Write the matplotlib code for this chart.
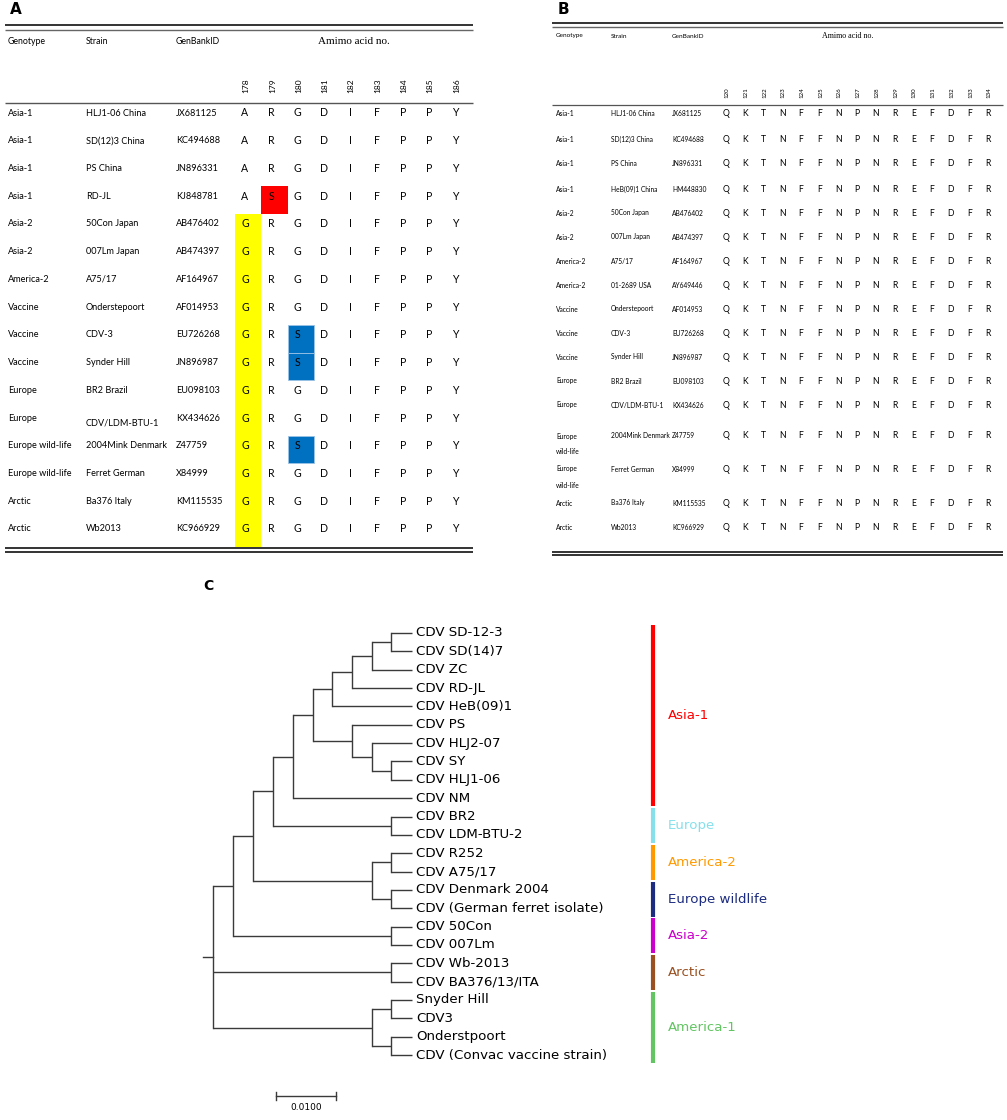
import matplotlib
matplotlib.use("Agg")
import matplotlib.pyplot as plt
from matplotlib.patches import Rectangle

# ---------------- panel A : acides aminés 178-186 ----------------
A_GENOTYPE = ["Asia-1", "Asia-1", "Asia-1", "Asia-1", "Asia-2", "Asia-2", "America-2",
              "Vaccine", "Vaccine", "Vaccine", "Europe", "Europe", "Europe wild-life",
              "Europe wild-life", "Arctic", "Arctic"]
A_STRAIN = ["HLJ1-06 China", "SD(12)3 China", "PS China", "RD-JL", "50Con Japan",
            "007Lm Japan", "A75/17", "Onderstepoort", "CDV-3", "Synder Hill", "BR2 Brazil",
            "CDV/LDM-BTU-1", "2004Mink Denmark", "Ferret German", "Ba376 Italy", "Wb2013"]
A_GENBANK = ["JX681125", "KC494688", "JN896331", "KJ848781", "AB476402", "AB474397",
             "AF164967", "AF014953", "EU726268", "JN896987", "EU098103", "KX434626",
             "Z47759", "X84999", "KM115535", "KC966929"]
A_POSITIONS = [178, 179, 180, 181, 182, 183, 184, 185, 186]
A_RESIDUES = ["ARGDIFPPY", "ARGDIFPPY", "ARGDIFPPY", "ASGDIFPPY", "GRGDIFPPY",
              "GRGDIFPPY", "GRGDIFPPY", "GRGDIFPPY", "GRSDIFPPY", "GRSDIFPPY",
              "GRGDIFPPY", "GRGDIFPPY", "GRSDIFPPY", "GRGDIFPPY", "GRGDIFPPY",
              "GRGDIFPPY"]
# couleur de surlignage par position quand le résidu diffère de la référence (1re ligne)
A_HIGHLIGHT = {178: "#FFFF00", 179: "#FF0000", 180: "#0070C0"}

# ---------------- panel B : acides aminés 120-134 ----------------
B_GENOTYPE = ["Asia-1", "Asia-1", "Asia-1", "Asia-1", "Asia-2", "Asia-2", "America-2",
              "America-2", "Vaccine", "Vaccine", "Vaccine", "Europe", "Europe",
              "Europe\nwild-life", "Europe\nwild-life", "Arctic", "Arctic"]
B_STRAIN = ["HLJ1-06 China", "SD(12)3 China", "PS China", "HeB(09)1 China", "50Con Japan",
            "007Lm Japan", "A75/17", "01-2689 USA", "Onderstepoort", "CDV-3", "Synder Hill",
            "BR2 Brazil", "CDV/LDM-BTU-1", "2004Mink Denmark", "Ferret German",
            "Ba376 Italy", "Wb2013"]
B_GENBANK = ["JX681125", "KC494688", "JN896331", "HM448830", "AB476402", "AB474397",
             "AF164967", "AY649446", "AF014953", "EU726268", "JN896987", "EU098103",
             "KX434626", "Z47759", "X84999", "KM115535", "KC966929"]
B_POSITIONS = list(range(120, 135))
B_RESIDUES = ["QKTNFFNPNREFDFR"] * 17

# ---------------- panel C : arbre ----------------
# noeud interne = (hauteur depuis les feuilles, [enfants]) ; feuille = nom
TREE = (0.0332, [
    (0.0298, [
        (0.0265, [
            (0.0232, [
                (0.0198, [
                    (0.0165, [
                        (0.0133, [
                            (0.0100, [
                                (0.0067, [(0.0035, ["CDV SD-12-3", "CDV SD(14)7"]), "CDV ZC"]),
                                "CDV RD-JL"]),
                            "CDV HeB(09)1"]),
                        (0.0100, ["CDV PS",
                                  (0.0067, ["CDV HLJ2-07",
                                            (0.0035, ["CDV SY", "CDV HLJ1-06"])])]),
                    ]),
                    "CDV NM"]),
                (0.0035, ["CDV BR2", "CDV LDM-BTU-2"])]),
            (0.0067, [(0.0035, ["CDV R252", "CDV A75/17"]),
                      (0.0035, ["CDV Denmark 2004", "CDV (German ferret isolate)"])])]),
        (0.0035, ["CDV 50Con", "CDV 007Lm"])]),
    (0.0035, ["CDV Wb-2013", "CDV BA376/13/ITA"]),
    (0.0067, [(0.0035, ["Snyder Hill", "CDV3"]),
              (0.0035, ["Onderstpoort", "CDV (Convac vaccine strain)"])]),
])
ROOT_STUB = 0.0017
CLADE_NAMES = ["Asia-1", "Europe", "America-2", "Europe wildlife", "Asia-2", "Arctic",
               "America-1"]
CLADE_SIZES = [10, 2, 2, 2, 2, 2, 4]
CLADE_COLORS = ["#FF0000", "#86E0EC", "#FF9900", "#1C2C80", "#CC00CC", "#9A5020",
                "#62C462"]
SCALE_LEN = 0.01

TAB_FONT = "Lato"
SERIF = "Liberation Serif"
TREE_FONT = "DejaVu Sans"

W, H = 1007, 1120
fig = plt.figure(figsize=(W / 100, H / 100), dpi=100)
ax = fig.add_axes([0, 0, 1, 1])
ax.set_xlim(0, W)
ax.set_ylim(H, 0)
ax.axis("off")


def hline(y, x0, x1, lw=1.2, color="#333333"):
    ax.plot([x0, x1], [y, y], color=color, lw=lw, solid_capstyle="butt")


# ---- table A (coordonnées en pixels : mise en page)
ax.text(10, 10, "A", fontsize=11, fontweight="bold", va="center", family="DejaVu Sans")
hline(25, 5, 473, lw=1.4)
hline(29.5, 5, 473, lw=1.0, color="#666666")
hline(548, 5, 473, lw=1.4)
hline(552, 5, 473, lw=1.4)
hline(103, 5, 473, lw=1.0, color="#555555")
for x, t in [(8, "Genotype"), (86, "Strain"), (176, "GenBankID")]:
    ax.text(x, 41, t, fontsize=6.3, va="center", family=TAB_FONT)
ax.text(354, 41, "Amimo acid no.", fontsize=8, va="center", ha="center", family=SERIF)

a_colx = [245 + 26.3 * i for i in range(len(A_POSITIONS))]
a_rowy = [113 + 27.73 * i for i in range(len(A_GENOTYPE))]
for x, p in zip(a_colx, A_POSITIONS):
    ax.text(x + 1, 86, str(p), rotation=90, fontsize=6, ha="center", va="center",
            family=TAB_FONT)
ref = A_RESIDUES[0]
for y, g, s, gb, res in zip(a_rowy, A_GENOTYPE, A_STRAIN, A_GENBANK, A_RESIDUES):
    ax.text(8, y, g, fontsize=6.6, va="center", family=TAB_FONT)
    ax.text(86, y + (5 if s == "CDV/LDM-BTU-1" else 0), s, fontsize=6.6, va="center",
            family=TAB_FONT)
    ax.text(176, y, gb, fontsize=6.6, va="center", family=TAB_FONT)
    for x, p, r, r0 in zip(a_colx, A_POSITIONS, res, ref):
        if r != r0 and p in A_HIGHLIGHT:
            ec = "#9CC3E6" if p == 180 else "none"
            ax.add_patch(Rectangle((x - 10, y - 10), 26.4, 27.73, facecolor=A_HIGHLIGHT[p],
                                   edgecolor=ec, lw=0.6, zorder=1))
        ax.text(x, y, r, fontsize=7.6, ha="center", va="center", family=TAB_FONT, zorder=2)

# ---- table B
ax.text(558, 9, "B", fontsize=11, fontweight="bold", va="center", family="DejaVu Sans")
hline(23, 552, 1003, lw=1.4)
hline(26.8, 552, 1003, lw=1.0, color="#666666")
hline(105, 552, 1003, lw=0.9, color="#555555")
hline(551.5, 552, 1003, lw=1.4)
hline(555, 552, 1003, lw=1.4)
for x, t in [(556, "Genotype"), (611, "Strain"), (672, "GenBankID")]:
    ax.text(x, 36, t, fontsize=4.6, va="center", family=TAB_FONT)
ax.text(848, 36, "Amimo acid no.", fontsize=5.8, va="center", ha="center", family=SERIF)

b_colx = [726 + 18.73 * i for i in range(len(B_POSITIONS))]
b_rowy = [114, 139, 164, 189, 213, 237, 261, 285, 309, 333, 357, 381, 405, 436, 469,
          503, 527]
for x, p in zip(b_colx, B_POSITIONS):
    ax.text(x + 1, 93, str(p), rotation=90, fontsize=4.4, ha="center", va="center",
            family=TAB_FONT)
for y, g, s, gb, res in zip(b_rowy, B_GENOTYPE, B_STRAIN, B_GENBANK, B_RESIDUES):
    for k, line in enumerate(g.split("\n")):
        ax.text(556, y + 16 * k, line, fontsize=4.8, va="center", family=TAB_FONT)
    ax.text(611, y, s, fontsize=4.8, va="center", family=TAB_FONT)
    ax.text(672, y, gb, fontsize=4.8, va="center", family=TAB_FONT)
    for x, r in zip(b_colx, res):
        ax.text(x, y, r, fontsize=6.2, ha="center", va="center", family=TAB_FONT)

# ---- arbre phylogénétique (x = -distance, y = index de feuille)
ax.text(203, 586, "C", fontsize=10, fontweight="bold", va="center", family="DejaVu Sans")
TIP_PX, PX_PER_UNIT, LEAF0_PX, LEAF_STEP = 412, 6000, 633, 18.35
tx0, tx1, ty0, ty1 = 190, 800, 600, 1120
tax = fig.add_axes([tx0 / W, 1 - ty1 / H, (tx1 - tx0) / W, (ty1 - ty0) / H])
tax.set_xlim((tx0 - TIP_PX) / PX_PER_UNIT, (tx1 - TIP_PX) / PX_PER_UNIT)
tax.set_ylim((ty1 - LEAF0_PX) / LEAF_STEP, (ty0 - LEAF0_PX) / LEAF_STEP)
tax.axis("off")
tax.patch.set_alpha(0)

LC = "#3a3a3a"
counter = [0]


def draw(node):
    if isinstance(node, str):
        y = counter[0]
        counter[0] += 1
        tax.text(0.0007, y, node, fontsize=9.6, va="center", family=TREE_FONT)
        return 0.0, y
    h, kids = node
    pos = [draw(k) for k in kids]
    x = -h
    for cx, cy in pos:
        tax.plot([x, cx], [cy, cy], color=LC, lw=1.0, solid_capstyle="butt")
    tax.plot([x, x], [pos[0][1], pos[-1][1]], color=LC, lw=1.0)
    return x, (pos[0][1] + pos[-1][1]) / 2


rx, ry = draw(TREE)
tax.plot([rx - ROOT_STUB, rx], [ry, ry], color=LC, lw=1.0)

bar_x = (653 - TIP_PX) / PX_PER_UNIT
lab_x = (668 - TIP_PX) / PX_PER_UNIT
start = 0
for name, n, c in zip(CLADE_NAMES, CLADE_SIZES, CLADE_COLORS):
    y0, y1 = start - 0.45, start + n - 1 + 0.45
    tax.plot([bar_x, bar_x], [y0, y1], color=c, lw=3.0, solid_capstyle="butt")
    tax.text(lab_x, (y0 + y1) / 2, name, color=c, fontsize=9.6, va="center",
             family=TREE_FONT)
    start += n

sb_y = (1096 - LEAF0_PX) / LEAF_STEP
sb_x0 = (276 - TIP_PX) / PX_PER_UNIT
tax.plot([sb_x0, sb_x0 + SCALE_LEN], [sb_y, sb_y], color=LC, lw=1.0)
for xx in (sb_x0, sb_x0 + SCALE_LEN):
    tax.plot([xx, xx], [sb_y - 0.22, sb_y + 0.22], color=LC, lw=1.0)
tax.text(sb_x0 + SCALE_LEN / 2, sb_y + 0.65, f"{SCALE_LEN:.4f}", fontsize=6.5,
         ha="center", va="center", family="Liberation Sans Narrow")

fig.savefig("out.png", dpi=100)
